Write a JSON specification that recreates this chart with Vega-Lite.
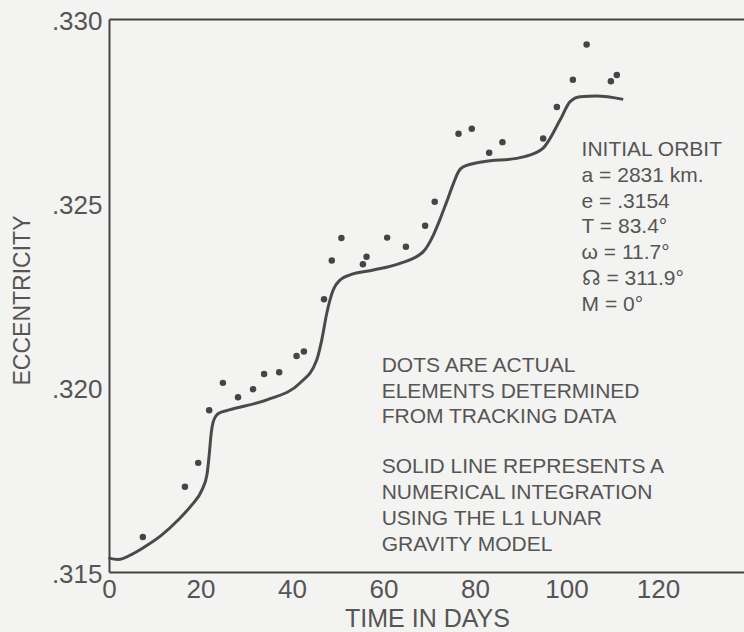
{
  "$schema": "https://vega.github.io/schema/vega-lite/v6.json",
  "width": 635,
  "height": 553,
  "autosize": {"type": "none"},
  "padding": {"left": 109, "top": 19, "right": 0, "bottom": 60},
  "background": "#f3f3f1",
  "config": {
    "view": {"stroke": null},
    "font": "Liberation Sans"
  },
  "datasets": {
    "curve": [
      {"t": 0, "e": 0.31540},
      {"t": 0.2, "e": 0.31537},
      {"t": 2.0, "e": 0.31534},
      {"t": 5.0, "e": 0.31548},
      {"t": 7.9, "e": 0.31569},
      {"t": 11.5, "e": 0.31600},
      {"t": 15.1, "e": 0.31641},
      {"t": 18.1, "e": 0.31682},
      {"t": 20.3, "e": 0.31722},
      {"t": 21.4, "e": 0.31763},
      {"t": 21.9, "e": 0.31817},
      {"t": 22.3, "e": 0.31872},
      {"t": 22.8, "e": 0.31908},
      {"t": 23.9, "e": 0.31930},
      {"t": 26.1, "e": 0.31939},
      {"t": 34.5, "e": 0.31967},
      {"t": 41.7, "e": 0.32012},
      {"t": 45.4, "e": 0.32075},
      {"t": 46.5, "e": 0.32129},
      {"t": 47.6, "e": 0.32202},
      {"t": 49.0, "e": 0.32265},
      {"t": 50.5, "e": 0.32292},
      {"t": 52.7, "e": 0.32306},
      {"t": 57.8, "e": 0.32319},
      {"t": 63.6, "e": 0.32337},
      {"t": 68.7, "e": 0.32369},
      {"t": 70.9, "e": 0.32414},
      {"t": 72.3, "e": 0.32455},
      {"t": 73.8, "e": 0.32504},
      {"t": 75.3, "e": 0.32554},
      {"t": 76.4, "e": 0.32586},
      {"t": 77.4, "e": 0.32599},
      {"t": 81.8, "e": 0.32613},
      {"t": 89.1, "e": 0.32622},
      {"t": 90.6, "e": 0.32626},
      {"t": 94.9, "e": 0.32650},
      {"t": 98.6, "e": 0.32726},
      {"t": 100.8, "e": 0.32776},
      {"t": 103.0, "e": 0.32789},
      {"t": 106.6, "e": 0.32791},
      {"t": 112.4, "e": 0.32782}
    ],
    "dots": [
      {"t": 7.4, "e": 0.31595},
      {"t": 16.6, "e": 0.31731},
      {"t": 19.5, "e": 0.31796},
      {"t": 21.9, "e": 0.31939},
      {"t": 24.9, "e": 0.32013},
      {"t": 28.2, "e": 0.31974},
      {"t": 31.5, "e": 0.31996},
      {"t": 33.9, "e": 0.32037},
      {"t": 37.2, "e": 0.32042},
      {"t": 41.0, "e": 0.32086},
      {"t": 42.6, "e": 0.32098},
      {"t": 47.0, "e": 0.32240},
      {"t": 48.7, "e": 0.32345},
      {"t": 50.8, "e": 0.32406},
      {"t": 55.5, "e": 0.32335},
      {"t": 56.3, "e": 0.32355},
      {"t": 60.8, "e": 0.32407},
      {"t": 64.9, "e": 0.32382},
      {"t": 69.1, "e": 0.32439},
      {"t": 71.2, "e": 0.32504},
      {"t": 76.4, "e": 0.32689},
      {"t": 79.3, "e": 0.32702},
      {"t": 83.1, "e": 0.32637},
      {"t": 86.0, "e": 0.32666},
      {"t": 94.9, "e": 0.32676},
      {"t": 97.9, "e": 0.32761},
      {"t": 101.4, "e": 0.32835},
      {"t": 104.4, "e": 0.32931},
      {"t": 109.7, "e": 0.32831},
      {"t": 111.0, "e": 0.32848}
    ],
    "notes": [
      {"t": 103.3, "e": 0.326284, "label": "INITIAL ORBIT|a = 2831 km.|e = .3154|T = 83.4°|ω = 11.7°|☊ = 311.9°|M = 0°"},
      {"t": 59.6, "e": 0.320433, "label": "DOTS ARE ACTUAL|ELEMENTS DETERMINED|FROM TRACKING DATA"},
      {"t": 59.6, "e": 0.317677, "label": "SOLID LINE REPRESENTS A|NUMERICAL INTEGRATION|USING THE L1 LUNAR|GRAVITY MODEL"}
    ]
  },
  "layer": [
    {
      "data": {"name": "curve"},
      "mark": {"type": "line", "interpolate": "monotone", "color": "#4a4a4a", "strokeWidth": 3},
      "encoding": {
        "x": {
          "field": "t", "type": "quantitative",
          "scale": {"domain": [0, 138.8], "nice": false, "zero": false},
          "axis": {
            "orient": "bottom",
            "values": [0, 20, 40, 60, 80, 100, 120],
            "grid": false, "ticks": false,
            "domainColor": "#444444", "domainWidth": 2,
            "labelFontSize": 26, "labelColor": "#555555", "labelPadding": 4,
            "labelFlush": false, "labelOverlap": false,
            "title": "TIME IN DAYS", "titleFontSize": 25, "titleFontWeight": "normal",
            "titleColor": "#555555", "titleBaseline": "alphabetic", "titleY": 54, "titleX": 318
          }
        },
        "y": {
          "field": "e", "type": "quantitative",
          "scale": {"domain": [0.315, 0.330], "nice": false, "zero": false},
          "axis": {
            "values": [0.315, 0.320, 0.325, 0.330],
            "labelExpr": "slice(format(datum.value, '.3f'), 1)",
            "grid": false, "ticks": false,
            "domainColor": "#444444", "domainWidth": 2,
            "labelFontSize": 26, "labelColor": "#555555", "labelPadding": 7,
            "labelFlush": false, "labelOverlap": false, "labelOffset": 2,
            "title": "ECCENTRICITY", "titleFontSize": 23, "titleFontWeight": "normal",
            "titleColor": "#555555", "titleAngle": 270, "titleBaseline": "middle",
            "titleAlign": "center", "titleX": -87, "titleY": 281
          }
        }
      }
    },
    {
      "data": {"name": "dots"},
      "mark": {"type": "circle", "color": "#454545", "opacity": 1, "size": 42},
      "encoding": {
        "x": {
          "field": "t", "type": "quantitative",
          "axis": {"orient": "top", "labels": false, "ticks": false, "grid": false, "title": null,
                   "domainColor": "#444444", "domainWidth": 2}
        },
        "y": {
          "field": "e", "type": "quantitative",
          "axis": {
            "values": [0.315, 0.320, 0.325, 0.330],
            "labelExpr": "slice(format(datum.value, '.3f'), 1)",
            "grid": false, "ticks": false,
            "domainColor": "#444444", "domainWidth": 2,
            "labelFontSize": 26, "labelColor": "#555555", "labelPadding": 7,
            "labelFlush": false, "labelOverlap": false, "labelOffset": 2,
            "title": "ECCENTRICITY", "titleFontSize": 23, "titleFontWeight": "normal",
            "titleColor": "#555555", "titleAngle": 270, "titleBaseline": "middle",
            "titleAlign": "center", "titleX": -87, "titleY": 281
          }
        }
      }
    },
    {
      "data": {"name": "notes"},
      "mark": {"type": "text", "align": "left", "baseline": "alphabetic", "lineBreak": "|",
               "lineHeight": 25.8, "fontSize": 21, "color": "#555555", "font": "Liberation Sans"},
      "encoding": {
        "x": {"field": "t", "type": "quantitative", "axis": null},
        "y": {
          "field": "e", "type": "quantitative",
          "axis": {
            "values": [0.315, 0.320, 0.325, 0.330],
            "labelExpr": "slice(format(datum.value, '.3f'), 1)",
            "grid": false, "ticks": false,
            "domainColor": "#444444", "domainWidth": 2,
            "labelFontSize": 26, "labelColor": "#555555", "labelPadding": 7,
            "labelFlush": false, "labelOverlap": false, "labelOffset": 2,
            "title": "ECCENTRICITY", "titleFontSize": 23, "titleFontWeight": "normal",
            "titleColor": "#555555", "titleAngle": 270, "titleBaseline": "middle",
            "titleAlign": "center", "titleX": -87, "titleY": 281
          }
        },
        "text": {"field": "label", "type": "nominal"}
      }
    }
  ],
  "resolve": {"axis": {"x": "independent"}}
}
